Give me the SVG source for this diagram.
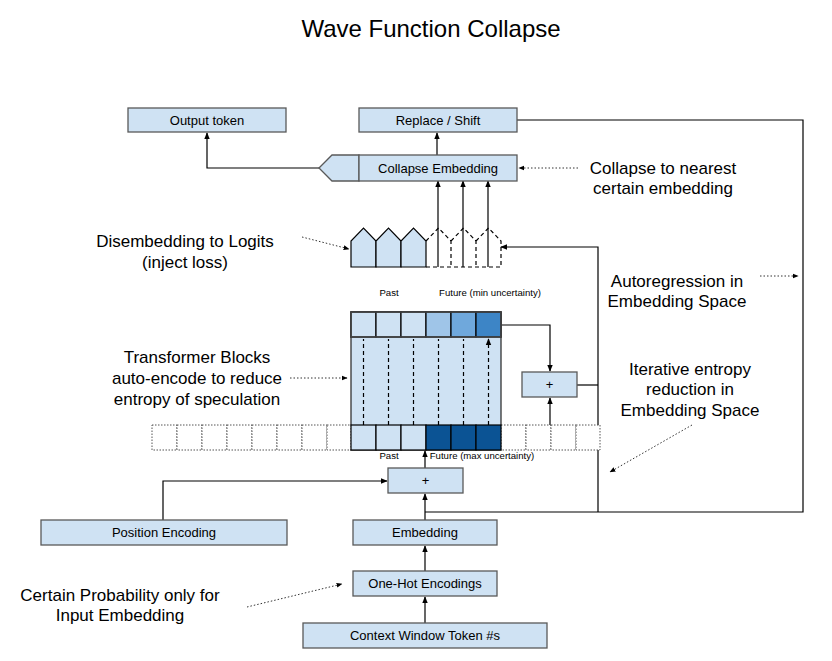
<svg xmlns="http://www.w3.org/2000/svg" width="832" height="661" viewBox="0 0 832 661">
<defs>
<style>
.box{fill:#cfe2f3;stroke:#595959;stroke-width:1.3}
.t{font-family:"Liberation Sans",Arial,sans-serif;font-size:13px;fill:#000;text-anchor:middle}
.s{font-family:"Liberation Sans",Arial,sans-serif;font-size:9.6px;fill:#000;text-anchor:middle}
.a{font-family:"Liberation Sans",Arial,sans-serif;font-size:17px;fill:#000;text-anchor:middle}
.ln{fill:none;stroke:#000;stroke-width:1.2}
.dt{fill:none;stroke:#333;stroke-width:1;stroke-dasharray:1.5 2}
.ds{fill:none;stroke:#000;stroke-width:1.2;stroke-dasharray:4 3}
.cell{stroke:#000;stroke-width:1.2}
.dcell{fill:#fff;stroke:#555;stroke-width:1;stroke-dasharray:1.5 1.5}
</style>
<marker id="ar" viewBox="0 0 10 10" refX="9" refY="5" markerWidth="6" markerHeight="6" orient="auto-start-reverse">
<path d="M0,1 L10,5 L0,9 z" fill="#000"/>
</marker>
</defs>
<rect width="832" height="661" fill="#fff"/>
<text x="431" y="37" font-family="Liberation Sans,Arial,sans-serif" font-size="24" text-anchor="middle">Wave Function Collapse</text>

<g id="connectors">
<path class="ln" d="M319,168 H207 V133" marker-end="url(#ar)"/>
<path class="ln" d="M437,155 V133" marker-end="url(#ar)"/>
<path class="ln" d="M517,120 H803 V512 H425"/>
<path class="ln" d="M438,267 V181" marker-end="url(#ar)"/>
<path class="ln" d="M463,267 V181" marker-end="url(#ar)"/>
<path class="ln" d="M488,267 V181" marker-end="url(#ar)"/>
<path class="ln" d="M598,512 V247 H501" marker-end="url(#ar)"/>
<path class="ln" d="M577,385 H598"/>
<path class="ln" d="M500,325 H550 V371" marker-end="url(#ar)"/>
<path class="ln" d="M500,437 H550 V398" marker-end="url(#ar)"/>
<path class="ln" d="M425,468 V451" marker-end="url(#ar)"/>
<path class="ln" d="M163,520 V481 H387" marker-end="url(#ar)"/>
<path class="ln" d="M425,520 V494" marker-end="url(#ar)"/>
<path class="ln" d="M425,571 V546" marker-end="url(#ar)"/>
<path class="ln" d="M425,623 V597" marker-end="url(#ar)"/>
<path class="dt" d="M578,168 H519" marker-end="url(#ar)"/>
<path class="dt" d="M302,237 L349,249" marker-end="url(#ar)"/>
<path class="dt" d="M760,276 H798" marker-end="url(#ar)"/>
<path class="dt" d="M290,378 H347" marker-end="url(#ar)"/>
<path class="dt" d="M692,425 L610,472" marker-end="url(#ar)"/>
<path class="dt" d="M247,607 L342,584" marker-end="url(#ar)"/>
</g>

<g id="output-token"><rect class="box" x="128" y="108" width="158" height="24"/><text class="t" x="207" y="125">Output token</text></g>
<g id="replace-shift"><rect class="box" x="359" y="108" width="158" height="24"/><text class="t" x="438" y="125">Replace / Shift</text></g>
<g id="collapse-embedding">
<polygon class="box" points="319,168 332,155 359,155 359,181 332,181"/>
<rect class="box" x="359" y="155" width="158" height="26"/>
<text class="t" x="438" y="173">Collapse Embedding</text>
</g>

<g id="logits">
<path class="cell" fill="#cfe2f3" d="M351,267 V241 L363.5,228 L376,241 V267 Z"/>
<path class="cell" fill="#cfe2f3" d="M376,267 V241 L388.5,228 L401,241 V267 Z"/>
<path class="cell" fill="#cfe2f3" d="M401,267 V241 L413.5,228 L426,241 V267 Z"/>
<path class="ds" d="M426,267 H501 M426,241 L438.5,228 L451,241 V267 M451,241 L463.5,228 L476,241 V267 M476,241 L488.5,228 L501,241 V267"/>
<text class="s" x="389" y="296">Past</text>
<text class="s" x="490" y="296">Future (min uncertainty)</text>
</g>

<g id="transformer">
<rect x="351" y="312" width="150" height="138" fill="#cfe2f3" stroke="#333" stroke-width="1.3"/>
<rect class="cell" x="351" y="312" width="25" height="25" fill="#cfe2f3"/>
<rect class="cell" x="376" y="312" width="25" height="25" fill="#cfe2f3"/>
<rect class="cell" x="401" y="312" width="25" height="25" fill="#cfe2f3"/>
<rect class="cell" x="426" y="312" width="25" height="25" fill="#9fc5e8"/>
<rect class="cell" x="451" y="312" width="25" height="25" fill="#6fa8dc"/>
<rect class="cell" x="476" y="312" width="25" height="25" fill="#3d85c6"/>
<rect x="351" y="312" width="150" height="25" fill="none" stroke="#444" stroke-width="1.6"/>
<path class="ds" d="M363.5,425 V339 M388.5,425 V339 M413.5,425 V339 M438.5,425 V339 M463.5,425 V339 M488.5,425 V339" marker-end="url(#ar)"/>
</g>

<g id="sequence">
<rect class="dcell" x="152" y="425" width="25" height="25"/>
<rect class="dcell" x="177" y="425" width="25" height="25"/>
<rect class="dcell" x="202" y="425" width="25" height="25"/>
<rect class="dcell" x="227" y="425" width="25" height="25"/>
<rect class="dcell" x="252" y="425" width="25" height="25"/>
<rect class="dcell" x="277" y="425" width="25" height="25"/>
<rect class="dcell" x="302" y="425" width="25" height="25"/>
<rect class="dcell" x="327" y="425" width="24" height="25"/>
<rect class="dcell" x="501" y="425" width="25" height="25"/>
<rect class="dcell" x="526" y="425" width="25" height="25"/>
<rect class="dcell" x="551" y="425" width="25" height="25"/>
<rect class="dcell" x="576" y="425" width="24" height="25"/>
<rect class="cell" x="351" y="425" width="25" height="25" fill="#cfe2f3"/>
<rect class="cell" x="376" y="425" width="25" height="25" fill="#cfe2f3"/>
<rect class="cell" x="401" y="425" width="25" height="25" fill="#cfe2f3"/>
<rect class="cell" x="426" y="425" width="25" height="25" fill="#0b5394"/>
<rect class="cell" x="451" y="425" width="25" height="25" fill="#0b5394"/>
<rect class="cell" x="476" y="425" width="25" height="25" fill="#0b5394"/>
<text class="s" x="389" y="459">Past</text>
<text class="s" x="482" y="459">Future (max uncertainty)</text>
</g>

<g id="plus-right"><rect class="box" x="522" y="372" width="55" height="25"/><text class="t" x="549.5" y="389" font-size="11">+</text></g>
<g id="plus-bottom"><rect class="box" x="388" y="468" width="75" height="25"/><text class="t" x="425.5" y="485" font-size="11">+</text></g>
<g id="position-encoding"><rect class="box" x="41" y="520" width="246" height="25"/><text class="t" x="164" y="537">Position Encoding</text></g>
<g id="embedding"><rect class="box" x="353" y="520" width="144" height="25"/><text class="t" x="425" y="537">Embedding</text></g>
<g id="one-hot"><rect class="box" x="353" y="571" width="144" height="25"/><text class="t" x="425" y="588">One-Hot Encodings</text></g>
<g id="context"><rect class="box" x="303" y="623" width="244" height="25"/><text class="t" x="425" y="640">Context Window Token #s</text></g>

<g id="annotations">
<text class="a" x="663" y="174">Collapse to nearest</text>
<text class="a" x="663" y="194">certain embedding</text>
<text class="a" x="185" y="247">Disembedding to Logits</text>
<text class="a" x="185" y="268">(inject loss)</text>
<text class="a" x="677" y="287">Autoregression in</text>
<text class="a" x="677" y="307">Embedding Space</text>
<text class="a" x="197" y="363">Transformer Blocks</text>
<text class="a" x="197" y="384">auto-encode to reduce</text>
<text class="a" x="197" y="405">entropy of speculation</text>
<text class="a" x="690" y="375">Iterative entropy</text>
<text class="a" x="690" y="395">reduction in</text>
<text class="a" x="690" y="416">Embedding Space</text>
<text class="a" x="120" y="601">Certain Probability only for</text>
<text class="a" x="120" y="621">Input Embedding</text>
</g>
</svg>
